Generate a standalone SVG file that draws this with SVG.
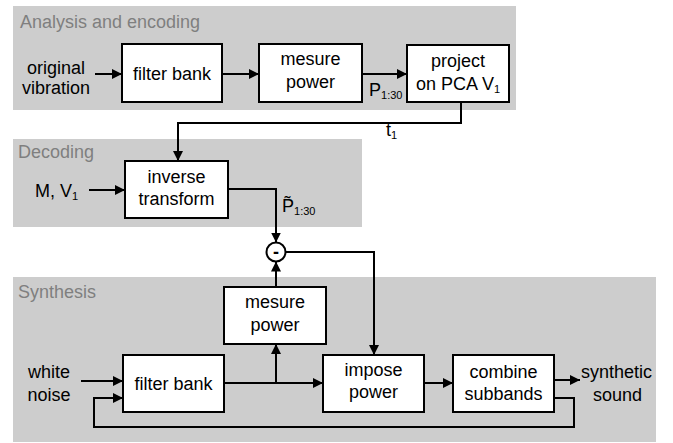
<svg xmlns="http://www.w3.org/2000/svg" width="673" height="443" viewBox="0 0 673 443">
<defs>
<marker id="ah" viewBox="0 0 10 10" refX="10" refY="5" markerWidth="10" markerHeight="10" markerUnits="userSpaceOnUse" orient="auto">
<path d="M0,0 L10,5 L0,10 z" fill="#000"/>
</marker>
<style>
.panel{fill:#cdcdcd;stroke:none}
.ptitle{font-family:"Liberation Sans",Arial,sans-serif;font-size:18px;fill:#7f7f7f}
.box{fill:#fff;stroke:#000;stroke-width:2}
.t{font-family:"Liberation Sans",Arial,sans-serif;font-size:18px;fill:#000;text-anchor:middle}
.l{font-family:"Liberation Sans",Arial,sans-serif;font-size:18px;fill:#000}
.sub{font-size:11px}
.c{fill:none;stroke:#000;stroke-width:2}
.a{marker-end:url(#ah)}
</style>
</defs>
<g id="panels">
<rect class="panel" x="13" y="6" width="503" height="104"/>
<rect class="panel" x="13" y="139" width="349" height="88"/>
<rect class="panel" x="13" y="277" width="643" height="165"/>
<text class="ptitle" x="20" y="28">Analysis and encoding</text>
<text class="ptitle" x="18" y="158">Decoding</text>
<text class="ptitle" x="18" y="298">Synthesis</text>
</g>
<g id="connectors">
<path class="c a" d="M95,74 H122"/>
<path class="c a" d="M222,74 H259"/>
<path class="c a" d="M362,74 H407"/>
<path class="c a" d="M461,102 V123 H178 V161"/>
<path class="c a" d="M89,190 H125"/>
<path class="c a" d="M228,189 H276 V242.5"/>
<path class="c a" d="M285.5,252 H374 V355"/>
<path class="c a" d="M81,381 H123"/>
<path class="c a" d="M554,398 H574 V427 H94 V398 H123"/>
<path class="c a" d="M224,383 H323"/>
<path class="c a" d="M276,383 V344"/>
<path class="c a" d="M276,287 V261.5"/>
<path class="c a" d="M424,383 H453"/>
<path class="c a" d="M554,380 H580"/>
</g>
<g id="labels">
<text class="t" x="56" y="74">original</text>
<text class="t" x="56" y="94">vibration</text>
<text class="l" x="369" y="96">P<tspan class="sub" dy="3">1:30</tspan></text>
<text class="l" x="386" y="136">t<tspan class="sub" dy="3">1</tspan></text>
<text class="l" x="35" y="197">M, V<tspan class="sub" dy="3">1</tspan></text>
<text class="l" x="282" y="212">P&#771;<tspan class="sub" dy="3">1:30</tspan></text>
<text class="t" x="49" y="378">white</text>
<text class="t" x="49" y="401">noise</text>
<text class="l" x="581" y="378">synthetic</text>
<text class="l" x="593" y="401">sound</text>
</g>
<g id="filterbank1">
<rect class="box" x="122" y="44" width="100" height="58"/>
<text class="t" x="172" y="80">filter bank</text>
</g>
<g id="mesure1">
<rect class="box" x="259" y="44" width="103" height="58"/>
<text class="t" x="310.5" y="65">mesure</text>
<text class="t" x="310.5" y="88">power</text>
</g>
<g id="project">
<rect class="box" x="407" y="45" width="102" height="57"/>
<text class="t" x="458" y="67">project</text>
<text class="t" x="458" y="90">on PCA V<tspan class="sub" dy="3">1</tspan></text>
</g>
<g id="inverse">
<rect class="box" x="125" y="161" width="103" height="57"/>
<text class="t" x="176.5" y="183">inverse</text>
<text class="t" x="176.5" y="205">transform</text>
</g>
<g id="minus">
<circle cx="276" cy="252" r="9.5" fill="#fff" stroke="#000" stroke-width="2"/>
<text class="t" x="276" y="258" font-weight="bold">-</text>
</g>
<g id="mesure2">
<rect class="box" x="224" y="287" width="102" height="57"/>
<text class="t" x="275" y="308">mesure</text>
<text class="t" x="275" y="331">power</text>
</g>
<g id="filterbank2">
<rect class="box" x="123" y="355" width="101" height="57"/>
<text class="t" x="173.5" y="390">filter bank</text>
</g>
<g id="impose">
<rect class="box" x="323" y="355" width="101" height="57"/>
<text class="t" x="373.5" y="376">impose</text>
<text class="t" x="373.5" y="398">power</text>
</g>
<g id="combine">
<rect class="box" x="453" y="355" width="101" height="57"/>
<text class="t" x="503.5" y="378">combine</text>
<text class="t" x="503.5" y="400">subbands</text>
</g>
</svg>
